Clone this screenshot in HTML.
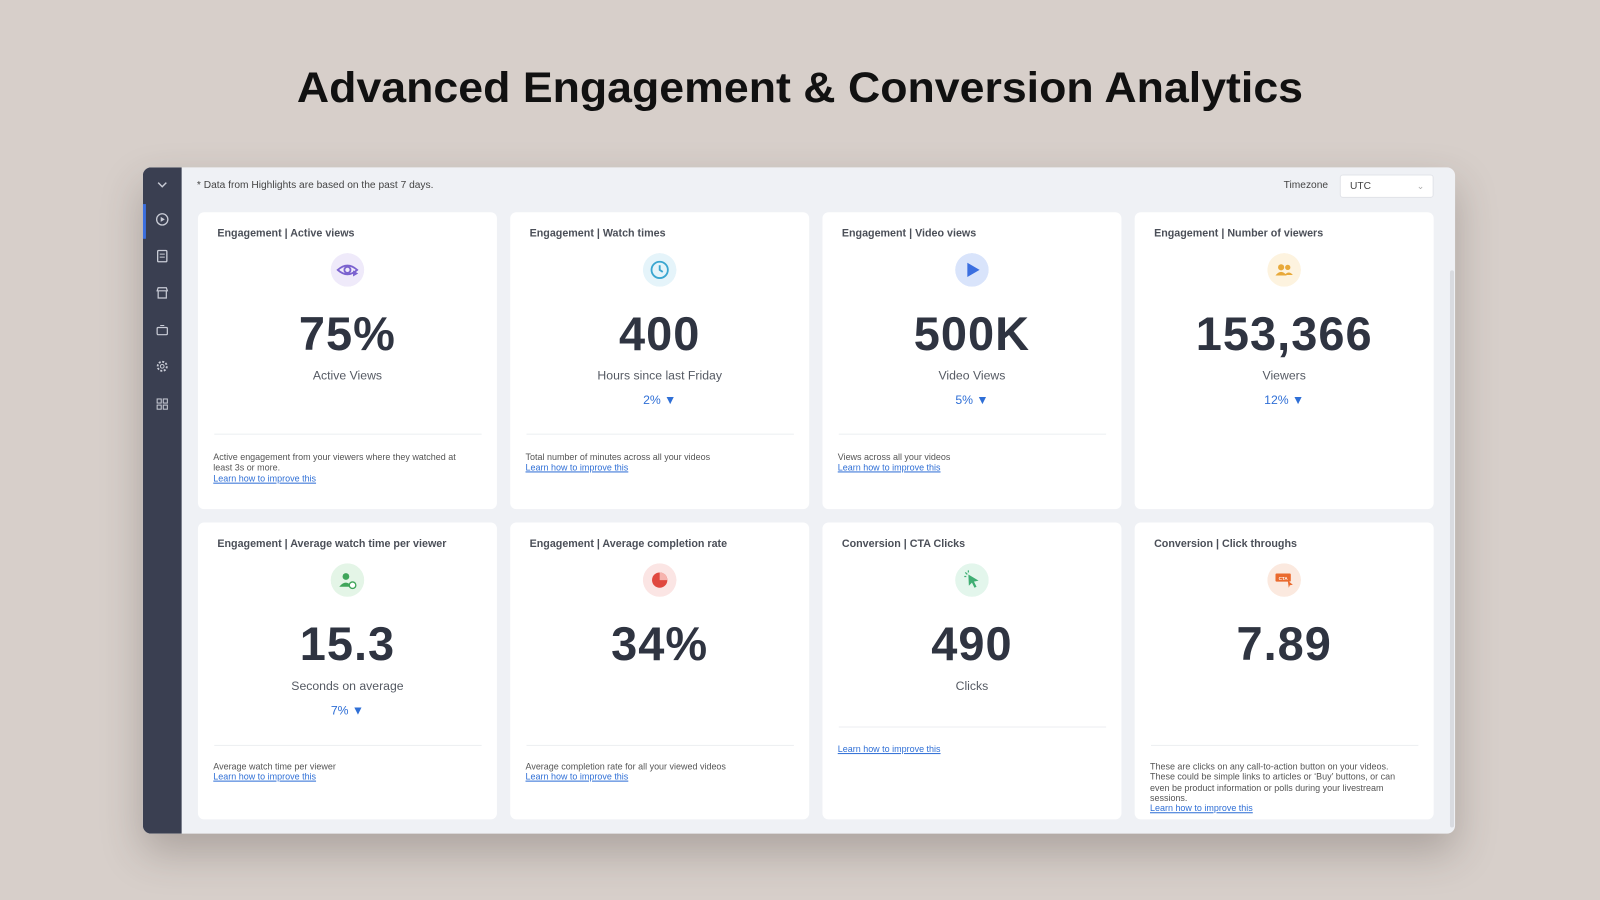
<!DOCTYPE html>
<html><head><meta charset="utf-8"><style>
html,body{margin:0;padding:0;width:1600px;height:900px;overflow:hidden;background:#d7cfca;}
#stage{position:absolute;left:0;top:0;width:1568px;height:882px;transform:scale(1.0204,1.0204);transform-origin:0 0;font-family:"Liberation Sans",sans-serif;}
.abs{position:absolute;}
.panel{left:140px;top:164px;width:1286px;height:653px;background:#eff1f5;border-radius:8px;box-shadow:0 18px 40px rgba(60,50,45,.28);overflow:hidden;}
.side{left:0;top:0;width:38px;height:653px;background:#3a3f51;}
.card{background:#fff;border-radius:6px;width:293px;height:291px;}
.ct{left:19px;top:15px;font-size:10.5px;font-weight:bold;color:#4b4f58;}
.ic{left:130px;top:40px;width:33px;height:33px;border-radius:50%;}
.big{left:0;width:293px;text-align:center;top:92px;font-size:46px;font-weight:bold;color:#2f3441;letter-spacing:1px;}
.lab{left:0;width:293px;text-align:center;top:153px;font-size:12px;color:#555a63;}
.dl{left:0;width:293px;text-align:center;top:177px;font-size:12px;color:#2f6fd6;}
.hr{left:16px;width:262px;height:1px;background:#eceef1;}
.desc{left:15px;width:258px;font-size:8.8px;color:#555;line-height:10.3px;}
.desc a{color:#2f6fd6;text-decoration:underline;display:block;}
.sic{left:12px;width:14px;height:14px;}
</style></head><body>
<div id="stage">
<svg class="abs" style="left:0;top:55px" width="1568" height="60"><text x="784" y="45" text-anchor="middle" textLength="986" lengthAdjust="spacingAndGlyphs" font-family="Liberation Sans, sans-serif" font-weight="bold" font-size="42" fill="#111">Advanced Engagement &amp; Conversion Analytics</text></svg>

<div class="abs panel">
 <div class="abs side">
  <svg class="abs" style="left:12px;top:11px" width="14" height="12"><path d="M3 4 L7 8 L11 4" stroke="#c9ccd6" fill="none" stroke-width="1.4"/></svg>
  <div class="abs" style="left:0;top:36px;width:3px;height:34px;background:#3b6fe0"></div>
  <svg class="abs sic" style="top:44px"><circle cx="7" cy="7" r="5.5" stroke="#c9ccd6" fill="none" stroke-width="1.3"/><path d="M5.5 4.5 L9.5 7 L5.5 9.5Z" fill="#c9ccd6"/></svg>
  <svg class="abs sic" style="top:80px"><rect x="2.5" y="1.5" width="9" height="11" rx="1" stroke="#c9ccd6" fill="none" stroke-width="1.3"/><line x1="4.5" y1="5" x2="9.5" y2="5" stroke="#c9ccd6"/><line x1="4.5" y1="8" x2="9.5" y2="8" stroke="#c9ccd6"/></svg>
  <svg class="abs sic" style="top:116px"><path d="M2 5 L3 2 H11 L12 5 Z M3 5 V12 H11 V5" stroke="#c9ccd6" fill="none" stroke-width="1.2"/></svg>
  <svg class="abs sic" style="top:152px"><rect x="2" y="5" width="10" height="7" rx="1" stroke="#c9ccd6" fill="none" stroke-width="1.2"/><path d="M5 3 H9" stroke="#c9ccd6"/></svg>
  <svg class="abs sic" style="top:188px"><circle cx="7" cy="7" r="4.5" stroke="#c9ccd6" fill="none" stroke-width="1.8" stroke-dasharray="2 1.5"/><circle cx="7" cy="7" r="1.8" stroke="#c9ccd6" fill="none"/></svg>
  <svg class="abs sic" style="top:225px"><rect x="2" y="2" width="4" height="4" stroke="#c9ccd6" fill="none"/><rect x="8" y="2" width="4" height="4" stroke="#c9ccd6" fill="none"/><rect x="2" y="8" width="4" height="4" stroke="#c9ccd6" fill="none"/><rect x="8" y="8" width="4" height="4" stroke="#c9ccd6" fill="none"/></svg>
 </div>
 <div class="abs" style="left:53px;top:12px;font-size:10px;color:#444">* Data from Highlights are based on the past 7 days.</div>
 <div class="abs" style="left:1118px;top:12px;font-size:10px;color:#444">Timezone</div>
 <div class="abs" style="left:1173px;top:7px;width:90px;height:21px;background:#fff;border:1px solid #e2e4e9;border-radius:3px;font-size:10px;color:#444;line-height:21px;text-indent:9px">UTC<span class="abs" style="right:8px;top:0;color:#aaa;font-size:9px">&#8964;</span></div>
 <div class="abs" style="left:1281px;top:101px;width:4px;height:546px;background:#d9dbe0;border-radius:2px"></div>
</div>

<!-- Row 1 -->
<div class="abs card" style="left:194px;top:208px">
 <div class="abs ct">Engagement | Active views</div>
 <svg class="abs ic" viewBox="0 0 33 33"><circle cx="16.5" cy="16.5" r="16.5" fill="#efeafa"/><path d="M7 16.5 Q16.5 8 26 16.5 Q16.5 25 7 16.5Z" stroke="#7b62cf" fill="none" stroke-width="1.8"/><circle cx="16.5" cy="16.5" r="3" stroke="#7b62cf" fill="none" stroke-width="1.8"/><path d="M22 17 L27 20 L22 23Z" fill="#7b62cf"/></svg>
 <div class="abs big">75%</div>
 <div class="abs lab">Active Views</div>
 <div class="abs hr" style="top:217px"></div>
 <div class="abs desc" style="top:235px">Active engagement from your viewers where they watched at least 3s or more.<a>Learn how to improve this</a></div>
</div>
<div class="abs card" style="left:500px;top:208px">
 <div class="abs ct">Engagement | Watch times</div>
 <svg class="abs ic" viewBox="0 0 33 33"><circle cx="16.5" cy="16.5" r="16.5" fill="#e5f4fa"/><circle cx="16.5" cy="16.5" r="8" stroke="#3aa6d0" fill="none" stroke-width="1.8"/><path d="M16.5 12 V16.5 L19.5 18.5" stroke="#3aa6d0" fill="none" stroke-width="1.8"/></svg>
 <div class="abs big">400</div>
 <div class="abs lab">Hours since last Friday</div>
 <div class="abs dl">2% &#9660;</div>
 <div class="abs hr" style="top:217px"></div>
 <div class="abs desc" style="top:235px">Total number of minutes across all your videos<a>Learn how to improve this</a></div>
</div>
<div class="abs card" style="left:806px;top:208px">
 <div class="abs ct">Engagement | Video views</div>
 <svg class="abs ic" viewBox="0 0 33 33"><circle cx="16.5" cy="16.5" r="16.5" fill="#d9e4fb"/><path d="M12 9.5 L24 16.5 L12 23.5Z" fill="#3b6fe0"/></svg>
 <div class="abs big">500K</div>
 <div class="abs lab">Video Views</div>
 <div class="abs dl">5% &#9660;</div>
 <div class="abs hr" style="top:217px"></div>
 <div class="abs desc" style="top:235px">Views across all your videos<a>Learn how to improve this</a></div>
</div>
<div class="abs card" style="left:1112px;top:208px">
 <div class="abs ct">Engagement | Number of viewers</div>
 <svg class="abs ic" viewBox="0 0 33 33"><circle cx="16.5" cy="16.5" r="16.5" fill="#fdf3df"/><circle cx="13.5" cy="14" r="3" fill="#e8a93a"/><path d="M8 22 Q13.5 15 19 22Z" fill="#e8a93a"/><circle cx="20" cy="14" r="2.6" fill="#e8a93a"/><path d="M17 21.5 Q21 16.5 25 21.5Z" fill="#e8a93a"/></svg>
 <div class="abs big">153,366</div>
 <div class="abs lab">Viewers</div>
 <div class="abs dl">12% &#9660;</div>
</div>

<!-- Row 2 -->
<div class="abs card" style="left:194px;top:512px">
 <div class="abs ct">Engagement | Average watch time per viewer</div>
 <svg class="abs ic" viewBox="0 0 33 33"><circle cx="16.5" cy="16.5" r="16.5" fill="#e4f5e7"/><circle cx="15" cy="13" r="3.3" fill="#3fa55a"/><path d="M8.5 23 Q15 15 21 23Z" fill="#3fa55a"/><circle cx="21.5" cy="21.5" r="3.2" fill="#fff" stroke="#3fa55a" stroke-width="1.3"/></svg>
 <div class="abs big">15.3</div>
 <div class="abs lab">Seconds on average</div>
 <div class="abs dl">7% &#9660;</div>
 <div class="abs hr" style="top:218px"></div>
 <div class="abs desc" style="top:234px">Average watch time per viewer<a>Learn how to improve this</a></div>
</div>
<div class="abs card" style="left:500px;top:512px">
 <div class="abs ct">Engagement | Average completion rate</div>
 <svg class="abs ic" viewBox="0 0 33 33"><circle cx="16.5" cy="16.5" r="16.5" fill="#fbe5e4"/><circle cx="16.5" cy="16.5" r="7.5" fill="#e0483f"/><path d="M16.5 9 A7.5 7.5 0 0 1 24 16.5 L16.5 16.5Z" fill="#f6b3ae"/></svg>
 <div class="abs big">34%</div>
 <div class="abs hr" style="top:218px"></div>
 <div class="abs desc" style="top:234px">Average completion rate for all your viewed videos<a>Learn how to improve this</a></div>
</div>
<div class="abs card" style="left:806px;top:512px">
 <div class="abs ct">Conversion | CTA Clicks</div>
 <svg class="abs ic" viewBox="0 0 33 33"><circle cx="16.5" cy="16.5" r="16.5" fill="#e3f6ec"/><path d="M13 11 L23 17 L18.5 18 L21 23 L19 24 L16.5 19 L13.5 22Z" fill="#3fae73"/><path d="M10 9 L12 11 M9 13 H11 M13 7 V9" stroke="#3fae73" stroke-width="1.2"/></svg>
 <div class="abs big">490</div>
 <div class="abs lab">Clicks</div>
 <div class="abs hr" style="top:200px"></div>
 <div class="abs desc" style="top:217px"><a>Learn how to improve this</a></div>
</div>
<div class="abs card" style="left:1112px;top:512px">
 <div class="abs ct">Conversion | Click throughs</div>
 <svg class="abs ic" viewBox="0 0 33 33"><circle cx="16.5" cy="16.5" r="16.5" fill="#fbe9df"/><rect x="8" y="10" width="15" height="8" rx="1" fill="#ea6a2e"/><text x="15.5" y="16.2" font-size="4.5" fill="#fff" text-anchor="middle" font-family="Liberation Sans, sans-serif" font-weight="bold">CTA</text><path d="M20 17 L25 21 L22 21.5 L21 24Z" fill="#ea6a2e"/></svg>
 <div class="abs big">7.89</div>
 <div class="abs hr" style="top:218px"></div>
 <div class="abs desc" style="top:234px">These are clicks on any call-to-action button on your videos. These could be simple links to articles or ‘Buy’ buttons, or can even be product information or polls during your livestream sessions.<a>Learn how to improve this</a></div>
</div>
</div>
</body></html>
